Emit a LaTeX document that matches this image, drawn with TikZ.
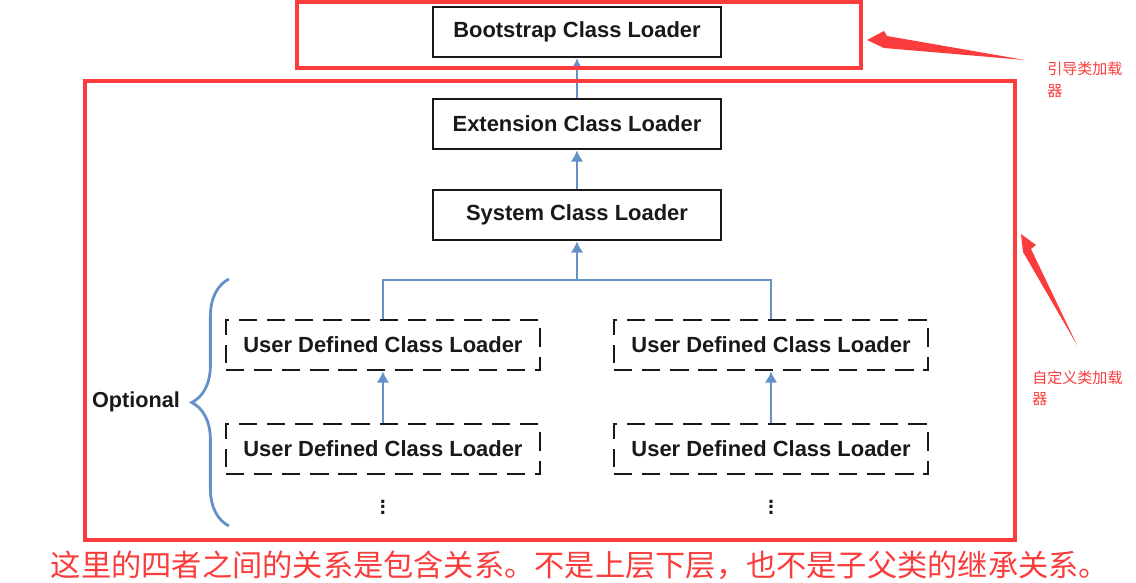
\documentclass[tikz,border=0pt]{standalone}
\usepackage{fontspec}
\setmainfont{Liberation Sans}
\newfontfamily\cjk{Noto Sans CJK SC}
\usepackage{tikz}
\usetikzlibrary{shapes,arrows,arrows.meta,decorations.pathreplacing}
\definecolor{markred}{RGB}{250,60,60}
\definecolor{link}{RGB}{100,146,200}
\definecolor{ink}{RGB}{25,25,25}
\tikzstyle{loader} = [rectangle, draw=ink, line width=1.8pt, fill=white, text=ink,
minimum width=7.2cm, minimum height=1.25cm, font=\fontsize{15.6}{18}\selectfont\bfseries]
\tikzstyle{userloader} = [loader, dash pattern=on 13pt off 7pt, minimum width=7.85cm]
\tikzstyle{line} = [draw=link, line width=2pt, -{Latex[length=8pt,width=9pt]}]
\tikzstyle{sidetext} = [text=ink, font=\fontsize{15.4}{18}\selectfont\bfseries]
\tikzstyle{redframe} = [draw=markred, line width=2.2pt]
\tikzstyle{note} = [text=markred, font=\cjk\fontsize{10.7}{15}\selectfont, align=left,
anchor=north west, inner sep=0pt]

\begin{document}
\begin{tikzpicture}[x=0.025cm, y=-0.025cm, node distance=2.3cm]
\useasboundingbox (0,0) rectangle (1136,583);
% Place nodes
\node [loader] (boot) at (577,32) {Bootstrap Class Loader};
\node [loader, below of=boot] (ext) {Extension Class Loader};
\node [loader, below of=ext, node distance=2.275cm] (sys) {System Class Loader};
\node [userloader, below of=sys, xshift=-4.85cm, node distance=3.25cm] (user1) {User Defined Class Loader};
\node [userloader, right of=user1, node distance=9.7cm] (user2) {User Defined Class Loader};
\node [userloader, below of=user1, node distance=2.6cm] (user3) {User Defined Class Loader};
\node [userloader, below of=user2, node distance=2.6cm] (user4) {User Defined Class Loader};
\node [sidetext, below of=user3, node distance=1.35cm] (more1) {$\vdots$};
\node [sidetext, below of=user4, node distance=1.35cm] (more2) {$\vdots$};
\node [sidetext] (optional) at (136,402) {Optional};
\coordinate (join) at (577,280);
% Draw edges
\path [line] (ext) -- (boot);
\path [line] (sys) -- (ext);
\path [line] (user1.north) |- (join) -- (sys);
\path [draw=link, line width=2pt] (user2.north) |- (join);
\path [line] (user3) -- (user1);
\path [line] (user4) -- (user2);
\draw [draw=link, line width=2pt, decorate, decoration={brace, amplitude=0.93cm}] (229,526) -- (229,279);
% Red marks
\draw [redframe] (297,2) rectangle (861,68);
\draw [redframe] (85,81) rectangle (1015,540);
\node [note] (bootnote) at (1047,62) {引导类加载\\器};
\node [note] (usernote) at (1032,370) {自定义类加载\\器};
\coordinate (boottip) at (867,40);
\coordinate (boottail) at (1025,60);
\coordinate (usertip) at (1021,234);
\coordinate (usertail) at (1077,345);
\fill [markred] (boottail) -- ++(-138,-24) -- ++(-3,-5) -- (boottip) -- ++(17,8) -- cycle;
\fill [markred] (usertail) -- ++(-46,-96) -- ++(5,-4) -- (usertip) -- ++(2,18) -- cycle;
\node [text=markred, font=\cjk\fontsize{21.5}{24}\selectfont] (summary) at (580,565)
{这里的四者之间的关系是包含关系。不是上层下层，也不是子父类的继承关系。};
\end{tikzpicture}
\end{document}
